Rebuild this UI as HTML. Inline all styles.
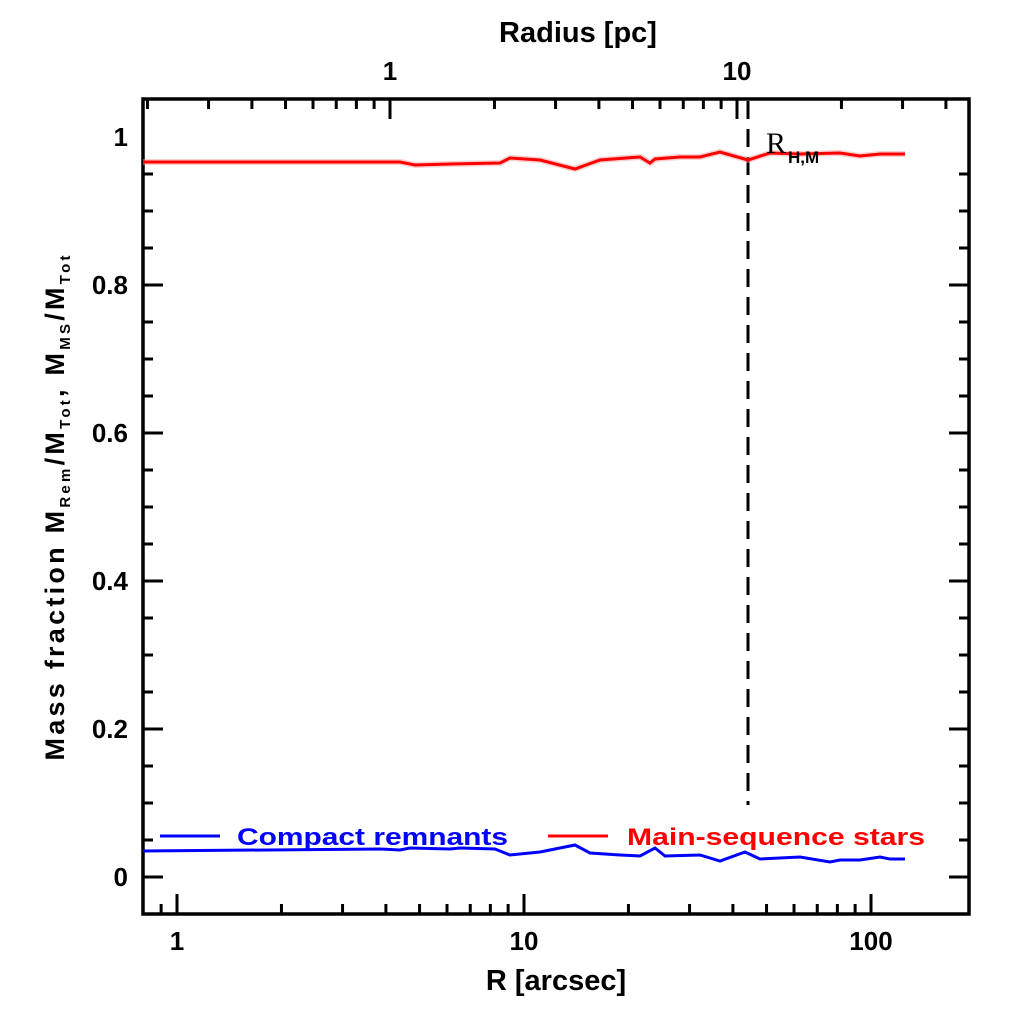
<!DOCTYPE html>
<html><head><meta charset="utf-8"><style>
html,body{margin:0;padding:0;background:#fff;}
svg{display:block;}
text{font-family:"Liberation Sans",sans-serif;font-weight:bold;fill:#000;}
</style></head><body>
<svg id="s" width="1024" height="1024" viewBox="0 0 1024 1024" xmlns="http://www.w3.org/2000/svg">
<rect x="0" y="0" width="1024" height="1024" fill="#fff"/>
<g id="ticks" stroke="#000" stroke-width="3"></g>
<rect x="143" y="99" width="826" height="815" fill="none" stroke="#000" stroke-width="3.5"/>
<line x1="748" y1="101" x2="748" y2="805" stroke="#000" stroke-width="3" stroke-dasharray="18,10"/>
<polyline fill="none" stroke="#f4a0a0" stroke-width="6" stroke-opacity="0.5" points="143,162 400,162 415,165 450,164 500,163 510,158 540,160 575,169 600,160 640,157 650,163 655,159 680,157 700,157 720,152 748,160 770,153 800,154 840,153 860,156 880,154 905,154"/>
<polyline fill="none" stroke="#ff0000" stroke-width="3" points="143,162 400,162 415,165 450,164 500,163 510,158 540,160 575,169 600,160 640,157 650,163 655,159 680,157 700,157 720,152 748,160 770,153 800,154 840,153 860,156 880,154 905,154"/>
<polyline fill="none" stroke="#0000ff" stroke-width="3" points="143,851 380,849 400,850 410,848 450,849 460,848 495,849 510,855 540,852 575,845 590,853 620,855 640,856 655,848 665,856 700,855 720,861 745,852 760,859 800,857 830,862 840,860 860,860 880,857 890,859 905,859"/>
<line x1="160" y1="836" x2="220" y2="836" stroke="#0000ff" stroke-width="3"/>
<text x="237" y="845" font-size="24" textLength="271" lengthAdjust="spacingAndGlyphs" style="fill:#0000ff">Compact remnants</text>
<line x1="548" y1="836" x2="608" y2="836" stroke="#ff0000" stroke-width="3"/>
<text x="627" y="845" font-size="24" textLength="298" lengthAdjust="spacingAndGlyphs" style="fill:#ff0000">Main-sequence stars</text>
<text x="766" y="153" font-size="30" style="font-family:'Liberation Serif',serif;font-weight:normal">R</text>
<text x="788" y="163" font-size="17">H,M</text>
<text x="578" y="42" font-size="29" text-anchor="middle">Radius [pc]</text>
<text x="556" y="990" font-size="29" text-anchor="middle">R [arcsec]</text>
<g transform="translate(64,508) rotate(-90)">
<text x="0" y="0" font-size="27" text-anchor="middle" textLength="505" lengthAdjust="spacing">Mass fraction   M<tspan font-size="15" dy="6">Rem</tspan><tspan dy="-6">/M</tspan><tspan font-size="15" dy="6">Tot</tspan><tspan dy="-6">,  M</tspan><tspan font-size="15" dy="6">MS</tspan><tspan dy="-6">/M</tspan><tspan font-size="15" dy="6">Tot</tspan></text>
</g>
<g id="labels"></g>
</svg>
<script>
(function(){
var t=document.getElementById('ticks'),L=document.getElementById('labels');
var NS='http://www.w3.org/2000/svg';
function ln(x1,y1,x2,y2){var e=document.createElementNS(NS,'line');e.setAttribute('x1',x1);e.setAttribute('y1',y1);e.setAttribute('x2',x2);e.setAttribute('y2',y2);t.appendChild(e);}
function tx(x,y,s,a){var e=document.createElementNS(NS,'text');e.setAttribute('x',x);e.setAttribute('y',y);e.setAttribute('font-size','26');e.setAttribute('text-anchor',a);e.textContent=s;L.appendChild(e);}
var X0=143,X1=969,Y0=99,Y1=914;
function xa(v){return 177+347*Math.log10(v);}
var bot=[0.8,0.9,1,2,3,4,5,6,7,8,9,10,20,30,40,50,60,70,80,90,100];
bot.forEach(function(v){var x=xa(v);if(x<X0+2||x>X1-2)return;var maj=(v==1||v==10||v==100);ln(x,Y1,x,Y1-(maj?20:10));});
tx(xa(1),950,'1','middle');tx(xa(10),950,'10','middle');tx(xa(100),950,'100','middle');
var f=Math.pow(10,(390-177)/347);
function xp(v){return 177+347*Math.log10(v*f);}
var tp=[0.2,0.3,0.4,0.5,0.6,0.7,0.8,0.9,1,2,3,4,5,6,7,8,9,10,20,30,40];
tp.forEach(function(v){var x=xp(v);if(x<X0+2||x>X1-2)return;var maj=(v==1||v==10);ln(x,Y0,x,Y0+(maj?20:10));});
tx(xp(1),80,'1','middle');tx(xp(10),80,'10','middle');
for(var i=-1;i<=19;i++){var v=i*0.05;var y=877-740*v;if(y>Y1-2||y<Y0+2)continue;var maj=(i%4==0);var l=maj?20:10;ln(X0,y,X0+l,y);ln(X1,y,X1-l,y);}
['0','0.2','0.4','0.6','0.8','1'].forEach(function(s,k){tx(128,877-740*0.2*k+9,s,'end');});
})();
</script>
</body></html>
